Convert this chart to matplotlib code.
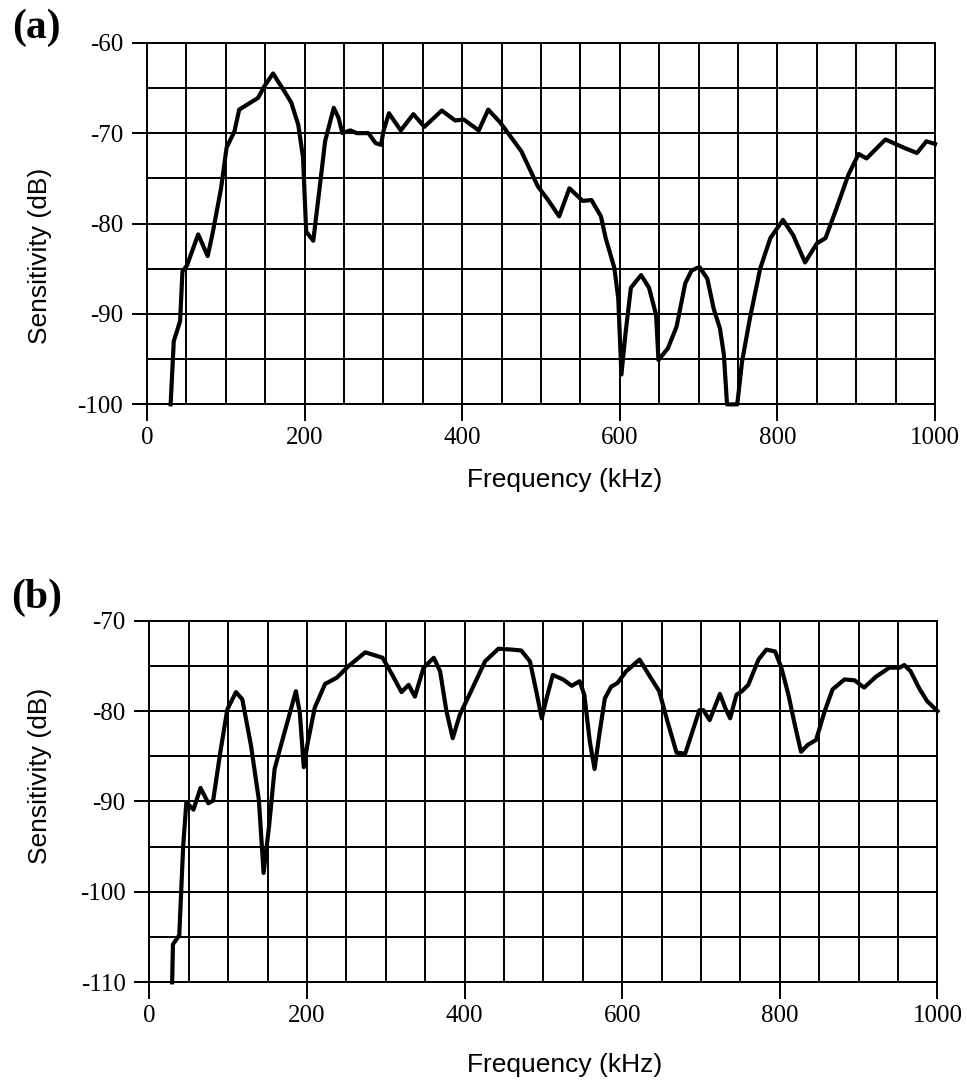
import matplotlib.pyplot as plt
from matplotlib.ticker import MultipleLocator

plt.rcParams['axes.unicode_minus'] = False

# Panel (a): sensitivity curve
freq_a = [30, 34, 42, 45, 51, 55, 65, 77, 83, 94, 101, 111, 117, 128, 141, 149, 160,
          173, 183, 192, 198, 202, 211, 219, 226, 237, 243, 248, 258, 266, 281, 290,
          297, 300, 307, 322, 338, 352, 374, 391, 402, 421, 433, 448, 459, 475, 496,
          509, 523, 536, 553, 564, 576, 582, 593, 598, 602, 607, 614, 627, 637, 646,
          649, 661, 672, 683, 691, 701, 711, 719, 727, 732, 736, 749, 755, 765, 778,
          791, 807, 820, 835, 850, 861, 875, 890, 903, 913, 937, 960, 977, 989, 1000]
sens_a = [-100, -93.0, -90.8, -85.3, -84.6, -83.6, -81.2, -83.6, -81.2, -76.1, -71.6,
          -69.8, -67.4, -66.8, -66.1, -64.8, -63.4, -65.2, -66.6, -69.1, -72.7, -80.9,
          -81.9, -76.1, -70.9, -67.2, -68.3, -70.0, -69.7, -70.0, -70.0, -71.1, -71.3,
          -69.8, -67.8, -69.7, -67.9, -69.3, -67.5, -68.6, -68.5, -69.7, -67.4, -68.8,
          -70.1, -72.0, -75.9, -77.4, -79.2, -76.1, -77.5, -77.4, -79.2, -81.6, -84.9,
          -88.3, -96.7, -92.3, -87.1, -85.7, -87.1, -90.1, -95.1, -93.8, -91.4, -86.6,
          -85.2, -84.8, -86.1, -89.4, -91.6, -94.5, -100, -100, -95.3, -90.5, -85.0,
          -81.6, -79.6, -81.3, -84.3, -82.2, -81.6, -78.3, -74.6, -72.3, -72.8, -70.7,
          -71.6, -72.2, -70.9, -71.2]

# Panel (b)
freq_b = [29, 30, 38, 43, 47, 56, 65, 75, 81, 90, 99, 110, 118, 129, 139, 145, 152,
          159, 167, 186, 191, 196, 201, 210, 223, 238, 253, 274, 296, 309, 320, 329,
          337, 348, 361, 369, 377, 385, 394, 405, 426, 443, 460, 472, 483, 491, 498,
          504, 512, 525, 536, 546, 552, 559, 565, 571, 578, 586, 594, 605, 622, 634,
          647, 658, 669, 680, 689, 698, 703, 711, 724, 731, 737, 745, 752, 760, 773,
          783, 794, 802, 811, 819, 827, 836, 846, 857, 867, 882, 895, 907, 922, 939,
          952, 958, 966, 977, 987, 1000]
sens_b = [-110, -105.8, -104.8, -94.9, -90.1, -90.9, -88.5, -90.2, -89.9, -84.6, -79.8,
          -77.9, -78.7, -83.8, -89.8, -97.9, -92.7, -86.4, -83.8, -77.8, -80.2, -86.2,
          -83.5, -79.6, -77.0, -76.3, -75.0, -73.5, -74.1, -76.1, -77.9, -77.1, -78.4,
          -75.2, -74.1, -75.6, -80.0, -83.0, -80.4, -78.4, -74.5, -73.1, -73.2, -73.3,
          -74.5, -77.8, -80.8, -78.6, -76.0, -76.5, -77.2, -76.7, -78.2, -83.4, -86.4,
          -82.6, -78.6, -77.3, -76.9, -75.6, -74.3, -76.0, -77.8, -81.3, -84.6, -84.7,
          -82.3, -79.9, -79.9, -81.0, -78.1, -79.7, -80.8, -78.2, -77.8, -77.1, -74.3,
          -73.2, -73.4, -75.2, -78.2, -81.5, -84.5, -83.7, -83.2, -80.0, -77.6, -76.5,
          -76.6, -77.4, -76.2, -75.2, -75.2, -74.9, -75.6, -77.5, -78.9, -80.0]

fig = plt.figure(figsize=(9.67, 10.87), dpi=100)
ax_a = fig.add_axes([0.152, 0.628, 0.815, 0.3327])
ax_b = fig.add_axes([0.1544, 0.0963, 0.815, 0.3327])


def style_axis(ax, ylim, xlab_pos, ylab_pos):
    ax.set_xlim(0, 1000)
    ax.set_ylim(*ylim)
    ax.xaxis.set_major_locator(MultipleLocator(200))
    ax.xaxis.set_minor_locator(MultipleLocator(50))
    ax.yaxis.set_major_locator(MultipleLocator(10))
    ax.yaxis.set_minor_locator(MultipleLocator(5))
    ax.grid(True, which='both', color='black', linewidth=1.4)
    ax.set_axisbelow(True)
    for s in ax.spines.values():
        s.set_linewidth(1.4)
    ax.tick_params(which='minor', length=0)
    ax.tick_params(axis='x', which='major', length=12, width=1.4, pad=4, labelsize=18)
    ax.tick_params(axis='y', which='major', length=11, width=1.4, pad=6, labelsize=18)
    for lab in ax.get_xticklabels() + ax.get_yticklabels():
        lab.set_fontfamily('Liberation Serif')
    ax.set_xlabel('Frequency (kHz)', fontsize=19, fontfamily='Liberation Sans')
    ax.set_ylabel('Sensitivity (dB)', fontsize=19, fontfamily='Liberation Sans')
    ax.xaxis.set_label_coords(*xlab_pos)
    ax.yaxis.set_label_coords(*ylab_pos)
    ax.xaxis.label.set_va('center')
    ax.yaxis.label.set_va('center')


ax_a.plot(freq_a, sens_a, color='black', linewidth=3, solid_joinstyle='round', clip_on=False)
style_axis(ax_a, (-100, -60), (0.53, -0.209), (-0.136, 0.41))

ax_b.plot(freq_b, sens_b, color='black', linewidth=3, solid_joinstyle='round', clip_on=False)
style_axis(ax_b, (-110, -70), (0.5275, -0.229), (-0.139, 0.571))

fig.text(0.038, 0.974, '(a)', fontsize=30, fontweight='bold',
         fontfamily='Liberation Serif', ha='center', va='center')
fig.text(0.038, 0.450, '(b)', fontsize=30, fontweight='bold',
         fontfamily='Liberation Serif', ha='center', va='center')

fig.savefig('out.png', dpi=100)
